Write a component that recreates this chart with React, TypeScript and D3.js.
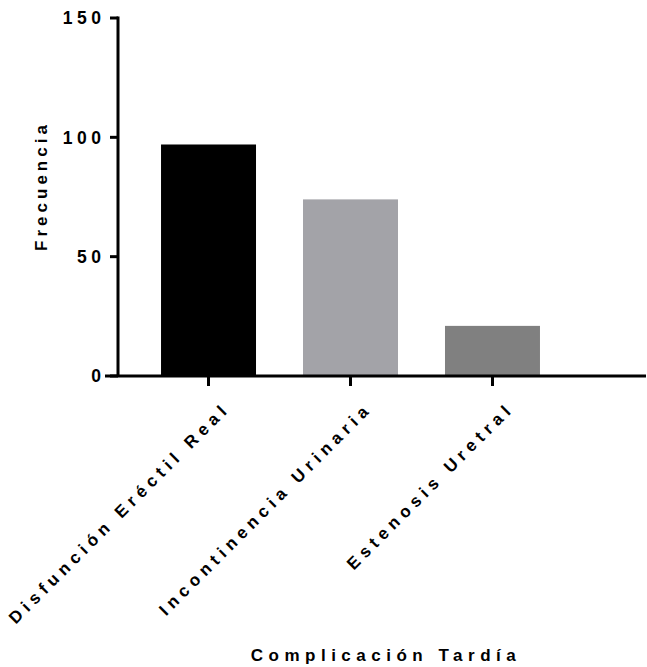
import React from 'react'
import * as d3 from 'd3'

const categories = ['Disfunción Eréctil Real', 'Incontinencia Urinaria', 'Estenosis Uretral']
const values = [97, 74, 21]
const colors = ['#000000', '#a3a3a8', '#808080']
const yTicks = [0, 50, 100, 150]

const W = 647
const H = 667
const font = '"Liberation Sans", Arial, sans-serif'
const spacing = 4.5
const labelSpacing = 5.2

export default function App() {
  const x = d3.scaleBand<string>()
    .domain(categories)
    .range([119, 582])
    .paddingInner(0.331)
    .paddingOuter(0.296)

  const y = d3.scaleLinear().domain([0, 150]).range([376, 18])

  return (
    <svg width={W} height={H} style={{ position: 'absolute', left: 0, top: 0, background: '#fff' }}
      fontFamily={font} fontWeight="bold">
      {/* bars */}
      {categories.map((c, i) => (
        <rect key={c}
          x={x(c)}
          y={y(values[i])}
          width={x.bandwidth()}
          height={y(0) - y(values[i])}
          fill={colors[i]} />
      ))}

      {/* y axis */}
      <line x1={118} x2={118} y1={y(150) - 1.5} y2={y(0)} stroke="#000" strokeWidth={3} />
      {yTicks.map(t => (
        <g key={t}>
          <line x1={110} x2={118} y1={y(t)} y2={y(t)} stroke="#000" strokeWidth={3} />
          <text x={101 + spacing} y={y(t)} dy="0.36em" textAnchor="end" fontSize={17.5}
            letterSpacing={spacing}>{t}</text>
        </g>
      ))}

      {/* x axis */}
      <line x1={105} x2={646} y1={y(0)} y2={y(0)} stroke="#000" strokeWidth={3} />
      {categories.map(c => {
        const cx = (x(c) || 0) + x.bandwidth() / 2
        return (
          <g key={c}>
            <line x1={cx} x2={cx} y1={y(0)} y2={y(0) + 10} stroke="#000" strokeWidth={3} />
            <text transform={`translate(${cx + 19 + labelSpacing * 0.707},${413 - labelSpacing * 0.707}) rotate(-45)`}
              textAnchor="end" fontSize={17} letterSpacing={labelSpacing}>{c}</text>
          </g>
        )
      })}

      {/* axis titles */}
      <text transform="translate(47,186) rotate(-90)" textAnchor="middle" fontSize={17}
        letterSpacing={4}>Frecuencia</text>
      <text x={386} y={661} textAnchor="middle" fontSize={17}
        letterSpacing={5.5}>Complicación Tardía</text>
    </svg>
  )
}
